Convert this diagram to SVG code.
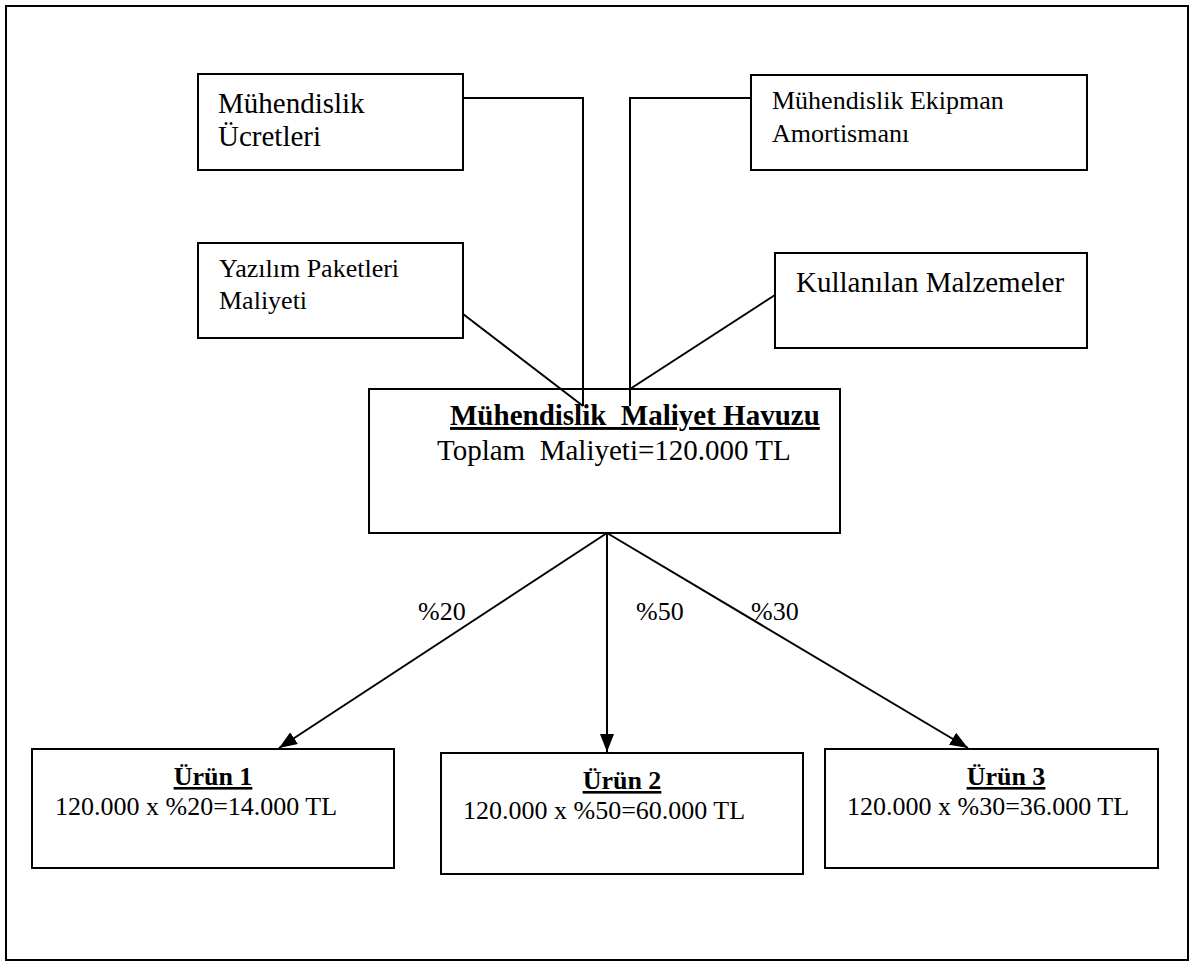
<svg xmlns="http://www.w3.org/2000/svg" width="1195" height="967" viewBox="0 0 1195 967">
  <style>
    .box { fill: #fff; stroke: #000; stroke-width: 2; }
    .frame { fill: none; stroke: #000; stroke-width: 2; }
    .wire { fill: none; stroke: #000; stroke-width: 2; }
    text { font-family: "Liberation Serif", "Times New Roman", serif; fill: #000; }
    .t29 { font-size: 29px; }
    .t26 { font-size: 26px; }
    .head { font-weight: bold; text-decoration: underline; }
  </style>
  <defs>
    <marker id="arrow" markerUnits="userSpaceOnUse" markerWidth="18" markerHeight="14" refX="18" refY="7" orient="auto">
      <path d="M0,0 L18,7 L0,14 z" fill="#000"/>
    </marker>
  </defs>

  <rect class="frame" x="6" y="6" width="1182" height="954"/>

  <!-- connectors -->
  <g id="connectors">
    <polyline class="wire" points="463,98 583,98 583,406"/>
    <polyline class="wire" points="751,98 630,98 630,406"/>
    <line class="wire" x1="463" y1="314" x2="583" y2="406"/>
    <line class="wire" x1="775" y1="295" x2="630" y2="389"/>
    <line class="wire" x1="607" y1="533" x2="279" y2="748" marker-end="url(#arrow)"/>
    <line class="wire" x1="607" y1="533" x2="607" y2="752" marker-end="url(#arrow)"/>
    <line class="wire" x1="607" y1="533" x2="968" y2="748" marker-end="url(#arrow)"/>
    <text class="t26" x="418" y="620">%20</text>
    <text class="t26" x="636" y="620">%50</text>
    <text class="t26" x="751" y="620">%30</text>
  </g>

  <g id="muhendislik-ucretleri">
    <rect class="box" x="198" y="74" width="265" height="96"/>
    <text class="t29" x="218" y="113">Mühendislik</text>
    <text class="t29" x="218" y="146">Ücretleri</text>
  </g>

  <g id="ekipman-amortismani">
    <rect class="box" x="751" y="75" width="336" height="95"/>
    <text class="t26" x="772" y="109">Mühendislik Ekipman</text>
    <text class="t26" x="772" y="142">Amortismanı</text>
  </g>

  <g id="yazilim-paketleri">
    <rect class="box" x="198" y="243" width="265" height="95"/>
    <text class="t26" x="219" y="277">Yazılım Paketleri</text>
    <text class="t26" x="219" y="309">Maliyeti</text>
  </g>

  <g id="kullanilan-malzemeler">
    <rect class="box" x="775" y="253" width="312" height="95"/>
    <text class="t29" x="796" y="292">Kullanılan Malzemeler</text>
  </g>

  <g id="maliyet-havuzu">
    <rect class="box" x="369" y="389" width="471" height="144" fill="none" style="fill:none"/>
    <text class="t29 head" x="450" y="425" xml:space="preserve">Mühendislik  Maliyet Havuzu</text>
    <text class="t29" x="437" y="460" xml:space="preserve">Toplam  Maliyeti=120.000 TL</text>
  </g>

  <g id="urun-1">
    <rect class="box" x="32" y="749" width="362" height="119"/>
    <text class="t26 head" x="213" y="785" text-anchor="middle">Ürün 1</text>
    <text class="t26" x="55" y="815">120.000 x %20=14.000 TL</text>
  </g>

  <g id="urun-2">
    <rect class="box" x="441" y="753" width="362" height="121"/>
    <text class="t26 head" x="622" y="789" text-anchor="middle">Ürün 2</text>
    <text class="t26" x="463" y="819">120.000 x %50=60.000 TL</text>
  </g>

  <g id="urun-3">
    <rect class="box" x="825" y="749" width="333" height="119"/>
    <text class="t26 head" x="1006" y="785" text-anchor="middle">Ürün 3</text>
    <text class="t26" x="847" y="815">120.000 x %30=36.000 TL</text>
  </g>
</svg>
